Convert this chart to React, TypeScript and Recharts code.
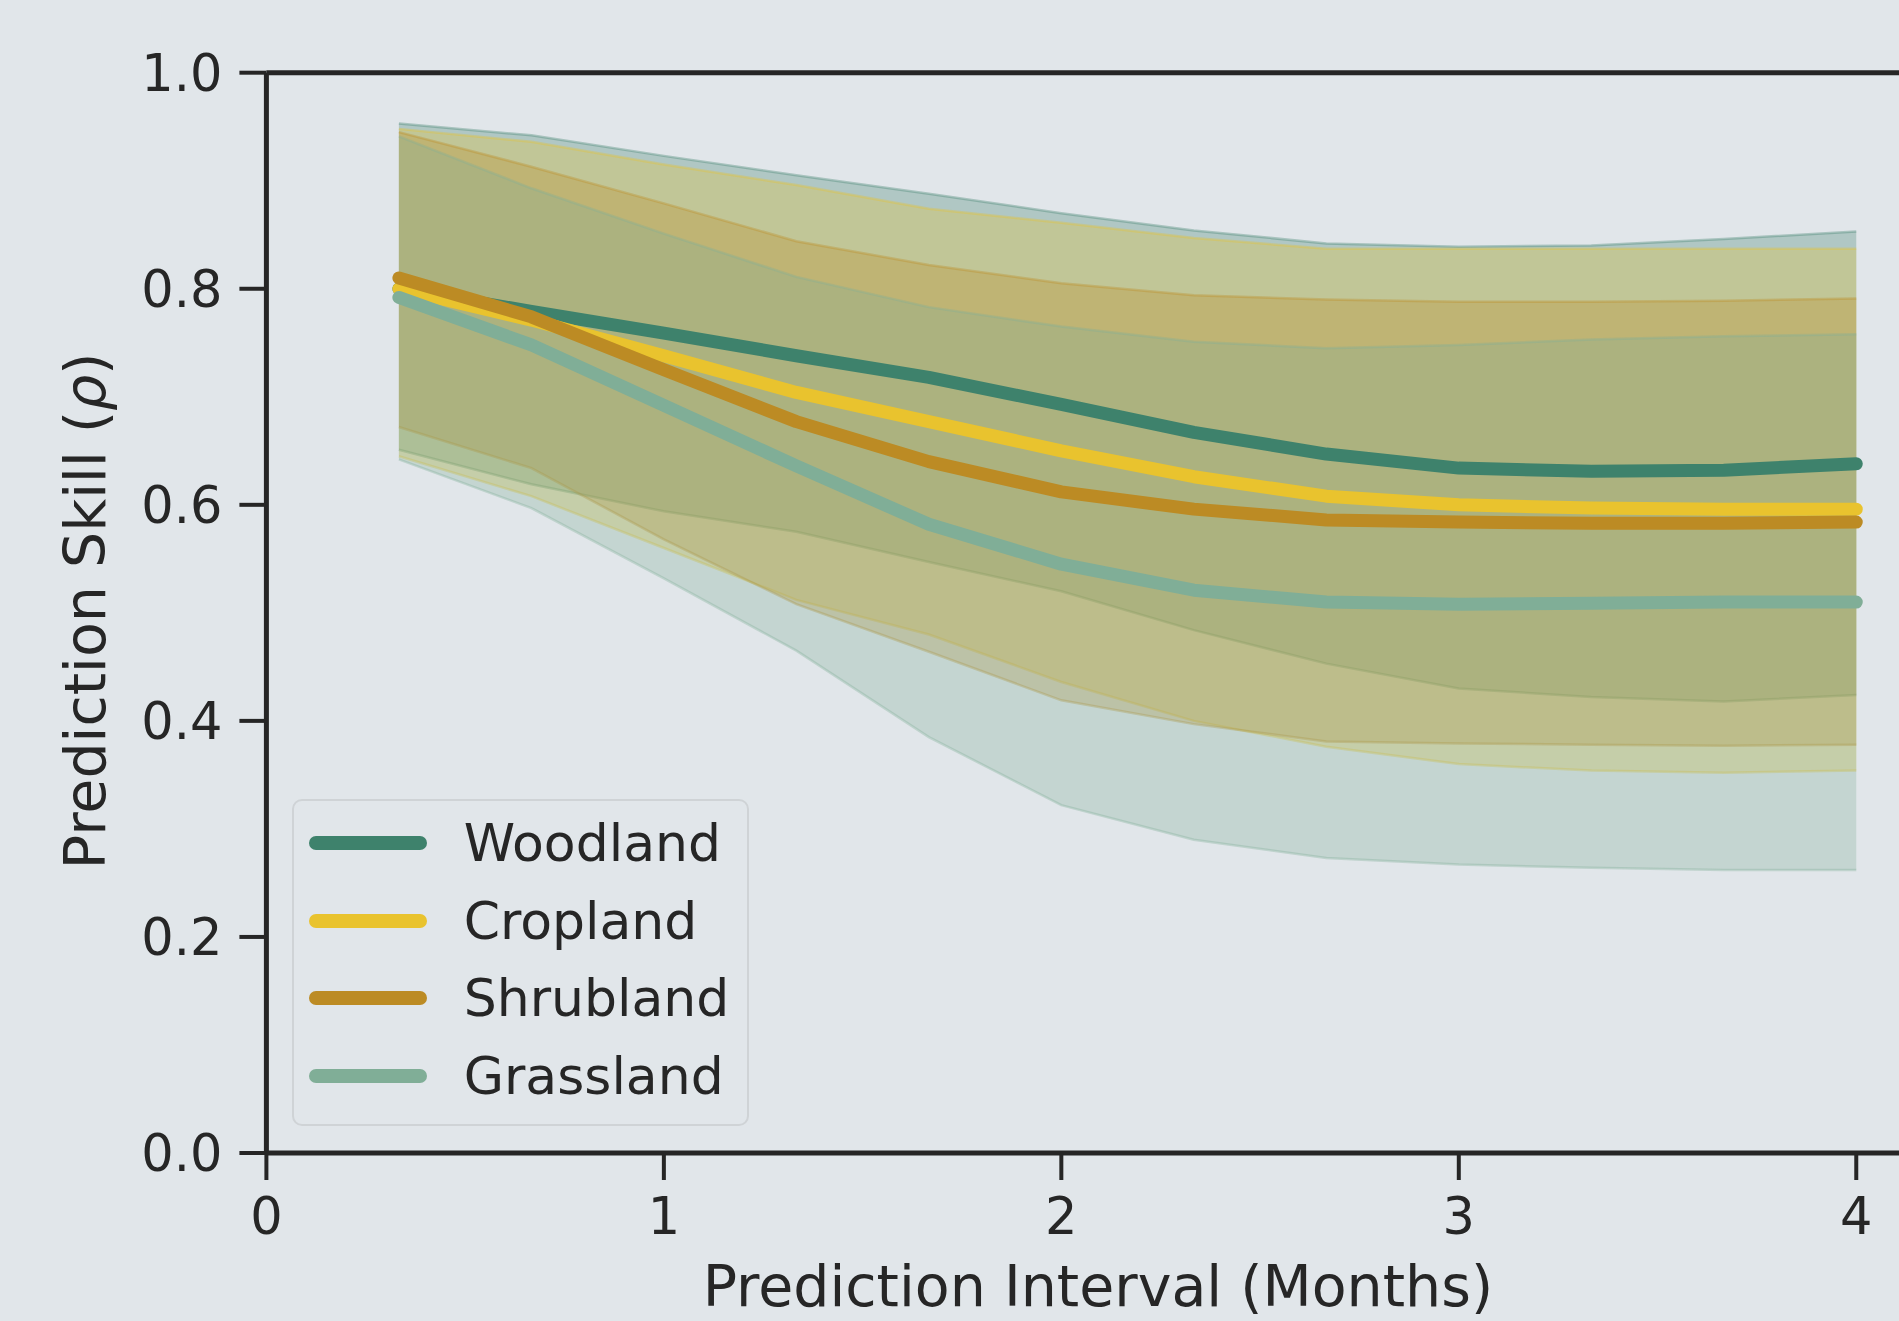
import React from 'react';
import {
  ComposedChart,
  Area,
  Line,
  XAxis,
  YAxis,
  ReferenceLine,
  Legend,
  Label,
} from 'recharts';

// ---- data ----
const intervals = [1 / 3, 2 / 3, 1, 4 / 3, 5 / 3, 2, 7 / 3, 8 / 3, 3, 10 / 3, 11 / 3, 4];

const woodlandMean = [0.800, 0.779, 0.759, 0.738, 0.718, 0.693, 0.667, 0.647, 0.634, 0.631, 0.632, 0.638];
const woodlandUpper = [0.953, 0.942, 0.923, 0.905, 0.888, 0.870, 0.854, 0.842, 0.839, 0.840, 0.846, 0.853];
const woodlandLower = [0.651, 0.619, 0.594, 0.575, 0.547, 0.520, 0.484, 0.453, 0.430, 0.422, 0.418, 0.424];

const croplandMean = [0.800, 0.771, 0.738, 0.704, 0.677, 0.650, 0.626, 0.608, 0.600, 0.597, 0.596, 0.596];
const croplandUpper = [0.948, 0.936, 0.915, 0.896, 0.874, 0.861, 0.847, 0.837, 0.837, 0.837, 0.837, 0.837];
const croplandLower = [0.645, 0.608, 0.560, 0.512, 0.480, 0.436, 0.400, 0.376, 0.360, 0.354, 0.352, 0.354];

const shrublandMean = [0.810, 0.774, 0.725, 0.677, 0.640, 0.612, 0.596, 0.586, 0.584, 0.583, 0.583, 0.584];
const shrublandUpper = [0.945, 0.913, 0.879, 0.844, 0.822, 0.805, 0.794, 0.790, 0.788, 0.788, 0.789, 0.791];
const shrublandLower = [0.672, 0.634, 0.568, 0.508, 0.464, 0.419, 0.397, 0.381, 0.379, 0.378, 0.377, 0.378];

const grasslandMean = [0.792, 0.748, 0.692, 0.636, 0.582, 0.545, 0.521, 0.510, 0.508, 0.509, 0.510, 0.510];
const grasslandUpper = [0.941, 0.893, 0.851, 0.811, 0.783, 0.765, 0.751, 0.745, 0.748, 0.753, 0.756, 0.758];
const grasslandLower = [0.642, 0.597, 0.532, 0.465, 0.385, 0.322, 0.290, 0.273, 0.267, 0.264, 0.262, 0.262];

const xTicks = [0, 1, 2, 3, 4];
const yTicks = [0, 0.2, 0.4, 0.6, 0.8, 1.0];

const seriesNames = ['Woodland', 'Cropland', 'Shrubland', 'Grassland'];
const seriesColors = ['#3e826c', '#e9c32e', '#bc8b24', '#80ae97'];
const seriesKeys = ['w', 'c', 's', 'g'];

const xLabel = 'Prediction Interval (Months)';
const yLabel = 'Prediction Skill (';

// ---- table built from the arrays ----
const data = intervals.map((x, i) => ({
  x,
  w: woodlandMean[i],
  wBand: [woodlandLower[i], woodlandUpper[i]],
  c: croplandMean[i],
  cBand: [croplandLower[i], croplandUpper[i]],
  s: shrublandMean[i],
  sBand: [shrublandLower[i], shrublandUpper[i]],
  g: grasslandMean[i],
  gBand: [grasslandLower[i], grasslandUpper[i]],
}));

const BG = '#e1e6ea';
const INK = '#262626';
const FONT = '"DejaVu Sans", Verdana, sans-serif';

const LegendBox = () => (
  <div
    style={{
      position: 'relative',
      width: 457,
      height: 327,
      boxSizing: 'border-box',
      border: '2px solid #cfd3d6',
      borderRadius: 10,
      background: 'rgba(225,230,234,0.8)',
      fontFamily: FONT,
    }}
  >
    {seriesNames.map((name, i) => {
      const cy = 42 + i * 77.6;
      return (
        <React.Fragment key={name}>
          <div
            style={{
              position: 'absolute',
              left: 15,
              top: cy - 7,
              width: 118,
              height: 14,
              borderRadius: 7,
              background: seriesColors[i],
            }}
          />
          <div
            style={{
              position: 'absolute',
              left: 170,
              top: cy - 26,
              fontSize: 52,
              lineHeight: '52px',
              color: INK,
              whiteSpace: 'nowrap',
            }}
          >
            {name}
          </div>
        </React.Fragment>
      );
    })}
  </div>
);

export default function App() {
  return (
    <div
      style={{
        position: 'absolute',
        left: 0,
        top: 0,
        width: 1899,
        height: 1321,
        overflow: 'hidden',
        background: BG,
        fontFamily: FONT,
      }}
    >
      <ComposedChart
        width={1960}
        height={1321}
        data={data}
        margin={{ top: 72.7, right: 30.6, bottom: 68, left: 66.4 }}
        style={{ fontFamily: FONT }}
      >
        <XAxis
          dataKey="x"
          type="number"
          domain={[0, 4.184]}
          ticks={xTicks}
          height={100}
          axisLine={{ stroke: INK, strokeWidth: 5 }}
          tickLine={{ stroke: INK, strokeWidth: 4 }}
          tickSize={27}
          tickMargin={18}
          tick={{ fill: INK, fontSize: 51, fontFamily: FONT }}
          allowDataOverflow
        >
          <Label
            content={(props: any) => {
              const vb = props.viewBox || {};
              return (
                <text
                  x={vb.x + vb.width / 2}
                  y={vb.y + 153}
                  textAnchor="middle"
                  fill={INK}
                  fontSize={57}
                  fontFamily={FONT}
                >
                  {xLabel}
                </text>
              );
            }}
          />
        </XAxis>
        <YAxis
          type="number"
          domain={[0, 1]}
          ticks={yTicks}
          width={200}
          axisLine={{ stroke: INK, strokeWidth: 5 }}
          tickLine={{ stroke: INK, strokeWidth: 4 }}
          tickSize={27}
          tickMargin={17}
          tickFormatter={(v: number) => v.toFixed(1)}
          tick={{ fill: INK, fontSize: 51, fontFamily: FONT }}
          allowDataOverflow
        >
          <Label
            content={(props: any) => {
              const vb = props.viewBox || {};
              const cx = vb.x + 38.6;
              const cy = vb.y + vb.height / 2 - 2;
              return (
                <text
                  x={cx}
                  y={cy}
                  transform={`rotate(-90, ${cx}, ${cy})`}
                  textAnchor="middle"
                  fill={INK}
                  fontSize={57}
                  fontFamily={FONT}
                >
                  {yLabel}
                  <tspan fontStyle="italic">ρ</tspan>
                  {')'}
                </text>
              );
            }}
          />
        </YAxis>
        <ReferenceLine y={1} stroke={INK} strokeWidth={5} ifOverflow="visible" />
        {seriesKeys.map((k, i) => (
          <Area
            key={k + 'Band'}
            dataKey={k + 'Band'}
            type="linear"
            fill={seriesColors[i]}
            fillOpacity={0.3}
            stroke={seriesColors[i]}
            strokeOpacity={0.35}
            strokeWidth={2.5}
            isAnimationActive={false}
            dot={false}
            activeDot={false}
            legendType="none"
          />
        ))}
        {seriesKeys.map((k, i) => (
          <Line
            key={k}
            dataKey={k}
            name={seriesNames[i]}
            type="linear"
            stroke={seriesColors[i]}
            strokeWidth={13}
            strokeLinecap="round"
            strokeLinejoin="round"
            dot={false}
            activeDot={false}
            isAnimationActive={false}
          />
        ))}
        <Legend
          layout="horizontal"
          verticalAlign="middle"
          align="center"
          wrapperStyle={{ left: 291.7, top: 799.3, width: 457, height: 327 }}
          content={() => <LegendBox />}
        />
      </ComposedChart>
    </div>
  );
}
